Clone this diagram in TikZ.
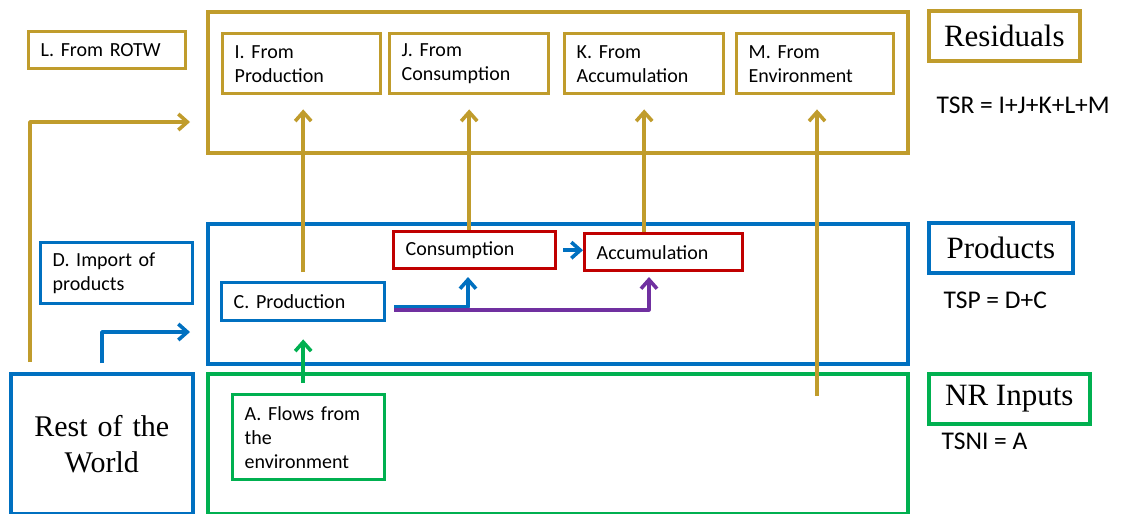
\documentclass[tikz,border=0pt]{standalone}
\usepackage{fontspec}
\setmainfont{Carlito}
\newfontfamily\headfont{Liberation Serif}
\usetikzlibrary{arrows.meta}
\definecolor{resgold}{HTML}{C09C2C}
\definecolor{prodblue}{HTML}{0070C0}
\definecolor{inputgreen}{HTML}{00B050}
\definecolor{sectorred}{HTML}{C00000}
\definecolor{flowpurple}{HTML}{7030A0}
\begin{document}
\begin{tikzpicture}[x=1pt, y=-1pt,
  box/.style={rectangle, draw, line width=3.4pt, anchor=north west, align=left, inner xsep=12pt, inner ysep=0pt, font=\fontsize{20}{24}\selectfont},
  region/.style={rectangle, draw, line width=3.6pt, anchor=north west, inner sep=0pt},
  tag/.style={rectangle, draw, line width=3.6pt, anchor=north west, inner sep=0pt, font=\headfont\fontsize{31}{36}\selectfont},
  total/.style={anchor=base west, font=\fontsize{25.5}{28}\selectfont},
  flow/.style={-{Straight Barb[length=9pt,width=16pt]}, line width=3.6pt, line join=round}
]
\useasboundingbox (0,0) rectangle (1122,514);
% three accounts
\node[region, draw=resgold, minimum width=700pt, minimum height=141pt] (resid) at (206,10) {};
\node[region, draw=prodblue, minimum width=700pt, minimum height=140pt] (prod) at (206,222) {};
\node[region, draw=inputgreen, minimum width=700pt, minimum height=140pt] (nrin) at (206,372) {};
% residual boxes
\node[box, draw=resgold, text width=133pt, minimum height=37pt] (L) at (27,30) {L. From ROTW};
\node[box, draw=resgold, text width=134pt, minimum height=60pt] (I) at (221,32) {I. From\\Production};
\node[box, draw=resgold, text width=135pt, minimum height=60pt] (J) at (388,32) {J. From\\Consumption};
\node[box, draw=resgold, text width=135pt, minimum height=60pt] (K) at (563,32) {K. From\\Accumulation};
\node[box, draw=resgold, text width=133pt, minimum height=60pt] (M) at (735,32) {M. From\\Environment};
% products
\node[box, draw=prodblue, text width=128pt, minimum height=61pt] (D) at (39,241) {D. Import of\\products};
\node[box, draw=prodblue, text width=139pt, minimum height=38pt] (C) at (220,281) {C. Production};
\node[box, draw=sectorred, text width=138pt, minimum height=37pt] (cons) at (392,230) {Consumption};
\node[box, draw=sectorred, text width=134pt, minimum height=37pt] (acc) at (583,232) {Accumulation};
% inputs
\node[box, draw=inputgreen, text width=128pt, minimum height=85pt] (A) at (231,393) {A. Flows from\\the\\environment};
\node[box, draw=prodblue, line width=3.6pt, align=center, text width=158pt, minimum height=140pt, font=\headfont\fontsize{30}{36}\selectfont] (rotw) at (9,372) {Rest of the\\World};
% labels on the right
\node[tag, draw=resgold, minimum width=151pt, minimum height=50pt] (restag) at (927,9) {Residuals};
\node[tag, draw=prodblue, minimum width=144pt, minimum height=50pt] (prodtag) at (927,221) {Products};
\node[tag, draw=inputgreen, minimum width=161pt, minimum height=50pt] (nrtag) at (927,372) {NR Inputs};
\node[total] (tsr) at (933,113) {TSR = I+J+K+L+M};
\node[total] (tsp) at (940,308) {TSP = D+C};
\node[total] (tsni) at (938,449) {TSNI = A};
% flows
\coordinate (lsrc) at (30,362);
\coordinate (lend) at (190,122);
\draw[flow, resgold] (lsrc) |- (lend);
\coordinate (dsrc) at (102,363);
\coordinate (dend) at (190,332);
\draw[flow, prodblue] (dsrc) |- (dend);
\coordinate (asrc) at ([yshift=10pt]A.north);
\coordinate (ctip) at ([yshift=-17pt]C.south);
\draw[flow, inputgreen] (asrc -| ctip) -- (ctip);
\coordinate (itip) at ([yshift=-14pt]I.south);
\draw[flow, resgold] ([yshift=9pt]C.north) -- (C.north |- itip);
\coordinate (jtip) at ([yshift=-14pt]J.south);
\draw[flow, resgold] (cons.north -| jtip) -- (jtip);
\coordinate (ktip) at ([yshift=-14pt]K.south);
\draw[flow, resgold] (acc.north -| ktip) -- (ktip);
\coordinate (mtip) at ([yshift=-14pt]M.south);
\coordinate (envsrc) at (817,396);
\draw[flow, resgold] (envsrc) -- (envsrc |- mtip);
\coordinate (cblue) at ([shift={(8pt,-5pt)}]C.east);
\coordinate (constip) at (468,277);
\draw[flow, prodblue] (cblue) -| (constip);
\coordinate (cpurp) at ([shift={(8pt,-8pt)}]C.east);
\coordinate (acctip) at (649,277);
\draw[flow, flowpurple] (cpurp) -| (acctip);
\draw[flow, prodblue] ([xshift=6pt]cons.east) -- (cons.east -| acc.west);
\end{tikzpicture}
\end{document}
